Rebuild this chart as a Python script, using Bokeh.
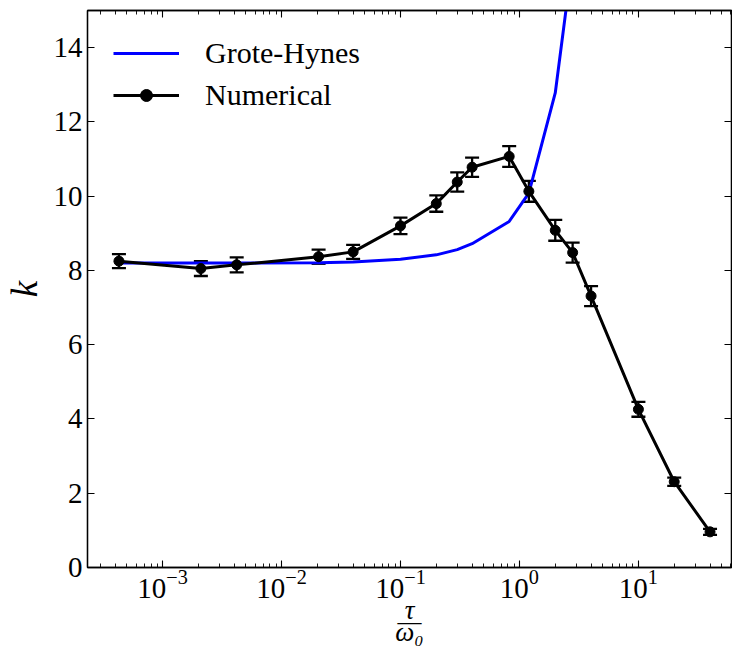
import math
from bokeh.plotting import figure
from bokeh.models import (Range1d, LogAxis, LinearAxis, FixedTicker, Whisker, TeeHead,
                          ColumnDataSource, Legend, LegendItem)
from bokeh.embed import file_html
from bokeh.resources import INLINE

# ---------------- data ----------------
num_x = [4.3e-4, 2.1e-3, 4.2e-3, 2.05e-2, 4.0e-2, 0.1, 0.2, 0.3, 0.4, 0.82, 1.2, 2.0, 2.8, 4.0, 10.0, 20.0, 40.0]
num_k = [8.25, 8.05, 8.15, 8.37, 8.50, 9.20, 9.80, 10.38, 10.78, 11.07, 10.13, 9.08, 8.48, 7.31, 4.26, 2.31, 0.96]
num_err = [0.19, 0.20, 0.20, 0.19, 0.19, 0.22, 0.22, 0.26, 0.26, 0.28, 0.28, 0.28, 0.27, 0.27, 0.20, 0.11, 0.08]

gh_x = [4.3e-4, 2.1e-3, 4.2e-3, 2.05e-2, 4.0e-2, 0.1, 0.2, 0.3, 0.4, 0.82, 1.2, 2.0, 2.8]
gh_k = [8.20, 8.20, 8.20, 8.21, 8.23, 8.30, 8.42, 8.56, 8.72, 9.32, 10.08, 12.78, 16.4]

x_major = [1e-4, 1e-3, 1e-2, 1e-1, 1e0, 1e1, 1e2]
y_major = [0, 2, 4, 6, 8, 10, 12, 14]

FONT = "Liberation Serif"

# ---------------- figure ----------------
p = figure(width=732, height=650, x_axis_type="log",
           x_range=Range1d(2.34e-4, 60.6), y_range=Range1d(0, 15),
           output_backend="svg", toolbar_location=None,
           min_border_left=87, min_border_right=1, min_border_top=10, min_border_bottom=82)
p.grid.visible = False
p.outline_line_color = "black"
p.outline_line_width = 1.3
p.background_fill_color = "white"
p.border_fill_color = "white"

x_minor = [m * d for d in x_major for m in range(2, 10)]


def style(ax, labels=True):
    ax.axis_line_color = "black"
    ax.axis_line_width = 1.3
    ax.major_tick_in = 7
    ax.major_tick_out = 0
    ax.minor_tick_in = 4
    ax.minor_tick_out = 0
    ax.major_tick_line_color = "black"
    ax.minor_tick_line_color = "black"
    ax.major_tick_line_width = 1.1
    ax.minor_tick_line_width = 0.9
    if labels:
        ax.major_label_text_font = FONT
        ax.major_label_text_font_size = "29px"
        ax.major_label_text_color = "black"
        ax.major_label_standoff = 5
    else:
        ax.major_label_text_font_size = "2px"
        ax.major_label_text_alpha = 0
        ax.major_label_standoff = 0


p.xaxis.ticker = FixedTicker(ticks=x_major, minor_ticks=x_minor)
p.yaxis.ticker = FixedTicker(ticks=y_major)
style(p.xaxis[0])
style(p.yaxis[0])
p.xaxis[0].major_label_standoff = 2
p.yaxis[0].minor_tick_in = 0

# axis titles
xa = p.xaxis[0]
xa.axis_label = "τ\n—\nω₀"
xa.axis_label_text_font = FONT
xa.axis_label_text_font_style = "italic"
xa.axis_label_text_font_size = "27px"
xa.axis_label_text_line_height = 0.38
xa.axis_label_standoff = -6
xa.axis_label_text_color = "black"

ya = p.yaxis[0]
ya.axis_label = "k"
ya.axis_label_text_font = FONT
ya.axis_label_text_font_style = "italic"
ya.axis_label_text_font_size = "37px"
ya.axis_label_standoff = 6
ya.axis_label_text_color = "black"

top = LogAxis(ticker=FixedTicker(ticks=x_major, minor_ticks=x_minor))
style(top, labels=False)
p.add_layout(top, "above")
right = LinearAxis(ticker=FixedTicker(ticks=y_major))
style(right, labels=False)
right.minor_tick_in = 0
p.add_layout(right, "right")

# ---------------- glyphs ----------------
src_gh = ColumnDataSource(dict(x=gh_x, k=gh_k))
r_gh = p.line("x", "k", source=src_gh, line_color="#0000ff", line_width=3)

lower = [k - e for k, e in zip(num_k, num_err)]
upper = [k + e for k, e in zip(num_k, num_err)]
src_num = ColumnDataSource(dict(x=num_x, k=num_k, lower=lower, upper=upper))
w = Whisker(source=src_num, base="x", lower="lower", upper="upper", dimension="height",
            line_color="black", line_width=2.3,
            lower_head=TeeHead(size=14, line_color="black", line_width=2.3),
            upper_head=TeeHead(size=14, line_color="black", line_width=2.3))
p.add_layout(w)
r_line = p.line("x", "k", source=src_num, line_color="black", line_width=3)
r_pts = p.scatter("x", "k", source=src_num, marker="circle", size=10,
                  fill_color="black", line_color="black")

legend = Legend(items=[LegendItem(label="Grote-Hynes", renderers=[r_gh]),
                       LegendItem(label="Numerical", renderers=[r_line, r_pts])],
                location="top_left")
legend.border_line_color = None
legend.background_fill_alpha = 0
legend.margin = 26
legend.padding = 0
legend.spacing = 8
legend.glyph_width = 66
legend.glyph_height = 30
legend.label_height = 30
legend.label_standoff = 26
legend.label_text_font = FONT
legend.label_text_font_size = "30px"
legend.label_text_color = "black"
p.add_layout(legend)

open("out.html", "w").write(file_html(p, INLINE))
